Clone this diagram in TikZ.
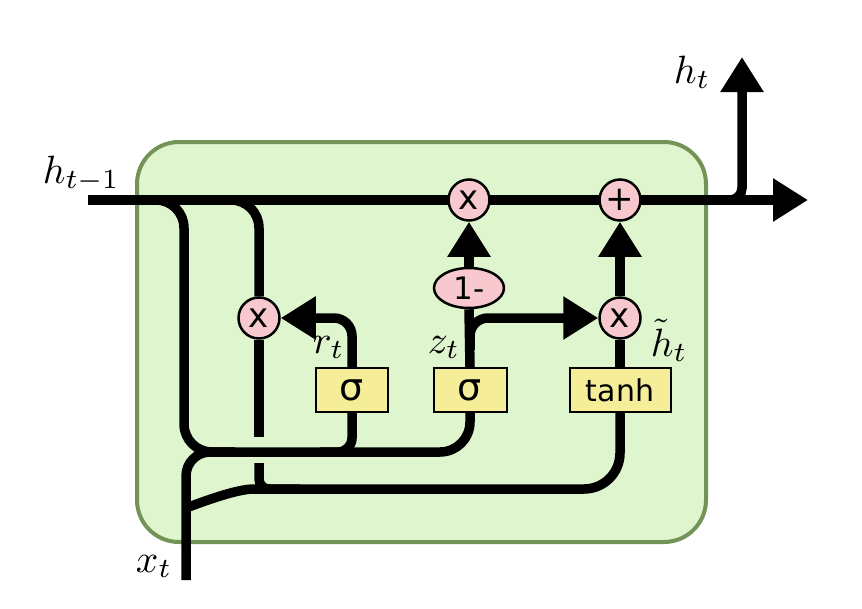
\documentclass[tikz,border=0pt]{standalone}
\usepackage{fontspec}
\newfontfamily\djv{DejaVu Sans}
\usetikzlibrary{arrows.meta,shapes.geometric}
\definecolor{cellfill}{RGB}{222,245,206}
\definecolor{cellborder}{RGB}{115,148,86}
\definecolor{opfill}{RGB}{247,201,206}
\definecolor{gatefill}{RGB}{246,237,152}
\pgfdeclarelayer{back}
\pgfdeclarelayer{wires}
\pgfsetlayers{back,wires,main}
\tikzset{
  wire/.style={line width=9.5pt, draw=black},
  tip/.style={-{Triangle[length=35pt,width=41pt]}},
  op/.style={circle, draw=black, line width=2.5pt, fill=opfill, minimum size=41pt, inner sep=0pt, font=\djv\fontsize{34}{36}\selectfont},
  oneop/.style={ellipse, draw=black, line width=2.5pt, fill=opfill, minimum width=70pt, minimum height=40pt, inner sep=0pt, font=\djv\fontsize{31}{33}\selectfont},
  gate/.style={rectangle, draw=black, line width=2pt, fill=gatefill, minimum height=44pt, inner sep=0pt},
  sig/.style={font=\djv\fontsize{38}{40}\selectfont},
  tnh/.style={font=\djv\fontsize{30}{32}\selectfont},
  lab/.style={scale=3.95, inner sep=0pt, anchor=base west},
  cell/.style={line width=4pt, draw=cellborder, fill=cellfill, rounded corners=42pt}
}
\begin{document}
\begin{tikzpicture}[x=1pt,y=-1pt]
\useasboundingbox (0,0) rectangle (862,608);
\begin{pgfonlayer}{back}
\draw[cell] (137,142) rectangle (706,542);
\end{pgfonlayer}
% operation nodes
\node[op] (m1) at (469,200) {x};
\node[op] (plus) at (620,200) {+};
\node[op] (mr) at (259,318) {x};
\node[op] (mh) at (620,318) {x};
\node[oneop] (one) at (469,288) {1-};
\node[gate, sig, minimum width=72pt] (sr) at (352,390) {σ};
\node[gate, sig, minimum width=73pt] (sz) at (470,390) {σ};
\node[gate, tnh, minimum width=101pt] (th) at (620,390) {tanh};
% labels
\node[lab] (lhin) at (42,183) {$h_{t-1}$};
\node[lab] (lhout) at (673,83) {$h_t$};
\node[lab] (lx) at (135,572) {$x_t$};
\node[lab] (lr) at (312,353) {$r_t$};
\node[lab] (lz) at (427,353) {$z_t$};
\node[lab] (lht) at (650,356) {$\tilde{h}_t$};
% coordinates
\coordinate (hin) at (88,200);
\coordinate (hout) at (808,200);
\coordinate (hsplit) at (690,200);
\coordinate (htop) at (742,57);
\coordinate (b1) at (140,200);
\coordinate (b2) at (215,200);
\coordinate (xin) at (186,580);
\coordinate (jn) at (235,452);
\coordinate (mrgap1) at (259,437);
\coordinate (mrgap2) at (259,463);
\coordinate (bottomstart) at (186,508);
\coordinate (zsplit) at (470,350);
\begin{pgfonlayer}{wires}
% main cell state line
\draw[wire, tip] (hin) -- (hout);
\draw[wire, tip, rounded corners=12pt] (hsplit) -| (htop);
% h_{t-1} branches
\draw[wire, rounded corners=28pt] (b1) -- (184,200) -- (184,452) -- (jn);
\draw[wire, rounded corners=28pt] (b2) -| (mr.north);
% x_t joining
\draw[wire, rounded corners=24pt] (xin) -- (186,452) -- (jn);
% shared horizontal to sigma_z
\draw[wire, rounded corners=30pt] (200,452) -- (470,452) -- (sz.south);
\draw[wire, rounded corners=14pt] (sr.south) -- (352,452) -- (320,452);
% reset path
\draw[wire, tip, rounded corners=18pt] (sr.north) |- (mr.east);
\draw[wire] (mr.south) -- (mrgap1);
\draw[wire, rounded corners=10pt] (mrgap2) -- (259,489) -- (300,489);
% bottom branch to tanh
\draw[wire, rounded corners=36pt] (bottomstart) .. controls (215,497) and (240,489) .. (290,489) -- (620,489) -- (th.south);
% update gate
\draw[wire] (sz.north) -- (one.south);
\draw[wire, tip] (one.north) -- (m1.south);
\draw[wire, tip, rounded corners=18pt] (zsplit) |- (mh.west);
% candidate
\draw[wire] (th.north) -- (mh.south);
\draw[wire, tip] (mh.north) -- (plus.south);
\end{pgfonlayer}
\end{tikzpicture}
\end{document}
